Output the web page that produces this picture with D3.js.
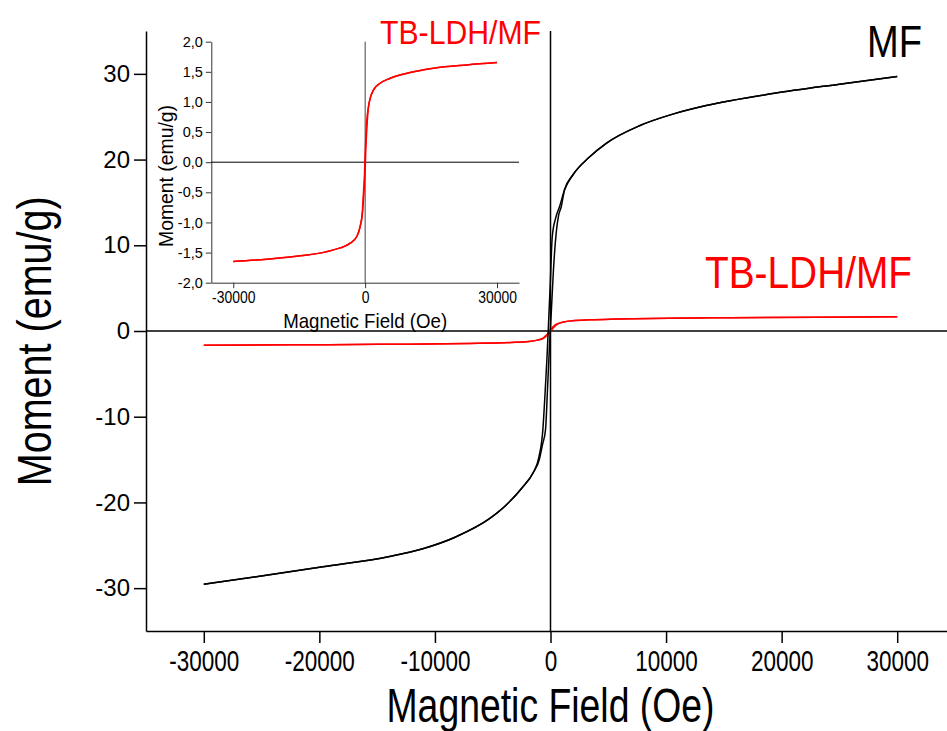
<!DOCTYPE html>
<html>
<head>
<meta charset="utf-8">
<script src="https://cdn.jsdelivr.net/npm/d3@7"></script>
<style>
  body { margin: 0; background: #fff; }
  svg { display: block; font-family: "Liberation Sans", Arial, sans-serif; }
</style>
</head>
<body>
<svg id="chart" width="947" height="731"></svg>
<script>
// --- MF hysteresis loop ---
const mfDescH = [30000, 25000, 19230, 13470, 10580, 7700, 4820, 3370, 1930, 1210, 780, 450, 150, -20, -150, -300, -480, -660, -1000, -1530, -2400, -3830, -5280, -8160, -11050, -13930, -19700, -25460, -30000];
const mfDescM = [29.7, 28.8, 27.7, 26.3, 25.3, 23.95, 21.9, 20.3, 18.2, 16.45, 14.5, 13.2, 11.0, 5.5, 1.5, -3.0, -7.5, -11.5, -14.7, -16.6, -18.2, -20.3, -21.9, -24.0, -25.4, -26.3, -27.5, -28.66, -29.55];
const mfAscH = [-30000, -25460, -19700, -13930, -11050, -8160, -5280, -3830, -2400, -1530, -950, -700, -430, -250, -80, 80, 250, 490, 700, 930, 1210, 1930, 3370, 4820, 7700, 10580, 13470, 19230, 25000, 30000];
const mfAscM = [-29.55, -28.66, -27.5, -26.3, -25.4, -24.0, -21.9, -20.3, -18.2, -16.6, -14.9, -13.3, -11.5, -6.5, -1.5, 2.5, 7.0, 11.4, 13.5, 14.5, 16.45, 18.2, 20.3, 21.9, 23.95, 25.3, 26.3, 27.7, 28.8, 29.7];

// --- TB-LDH/MF loop ---
const ldhDescH = [30000, 23160, 15570, 10250, 5700, 3418, 1900, 1139, 760, 380, 150, 0, -150, -380, -608, -1139, -1900, -3418, -7215, -14810, -22400, -30000];
const ldhDescM = [1.654, 1.615, 1.56, 1.49, 1.394, 1.31, 1.2, 1.06, 0.92, 0.70, 0.40, 0.15, -0.2, -0.5, -0.79, -1.067, -1.233, -1.344, -1.455, -1.554, -1.61, -1.648];
const ldhAscH = [-30000, -22400, -14810, -7215, -3418, -1900, -1139, -608, -380, -150, 0, 150, 380, 760, 1139, 1900, 3418, 5700, 10250, 15570, 23160, 30000];
const ldhAscM = [-1.648, -1.61, -1.554, -1.455, -1.344, -1.233, -1.067, -0.85, -0.62, -0.35, -0.12, 0.2, 0.55, 0.92, 1.06, 1.2, 1.31, 1.394, 1.49, 1.56, 1.615, 1.654];

// --- tick values ---
const mainXMajor = [-30000, -20000, -10000, 0, 10000, 20000, 30000];
const mainXMinor = [-35000, -25000, -15000, -5000, 5000, 15000, 25000, 35000];
const mainYMajor = [-30, -20, -10, 0, 10, 20, 30];
const mainYMinor = [-35, -25, -15, -5, 5, 15, 25, 35];
const insetXMajor = [-30000, 0, 30000];
const insetXMinor = [-15000, 15000];
const insetYMajor = [-2, -1.5, -1, -0.5, 0, 0.5, 1, 1.5, 2];
const insetYMinor = [-1.75, -1.25, -0.75, -0.25, 0.25, 0.75, 1.25, 1.75];

// each branch is a function of H, so sort by H for a monotone curve
const zip = (hs, ms) => hs.map((h, i) => ({ h: h, m: ms[i] })).sort((a, b) => a.h - b.h);
const plainFmt = d => String(d);
const commaFmt = d => d.toFixed(1).replace(".", ",");

const svg = d3.select("#chart");

// ===== main plot =====
const x = d3.scaleLinear().domain([-35000, 35000]).range([146, 955]);
const y = d3.scaleLinear().domain([-35, 35]).range([631, 31]);

function drawAxes(g, xs, ys, opt) {
  const xAxisG = g.append("g").attr("transform", `translate(0,${ys.range()[0]})`);
  xAxisG.call(d3.axisBottom(xs).tickValues(opt.xMinor).tickSize(opt.minor).tickSizeOuter(0).tickFormat(""));
  xAxisG.call(d3.axisBottom(xs).tickValues(opt.xMajor).tickSize(opt.major).tickSizeOuter(0)
    .tickPadding(opt.xPad).tickFormat(opt.xFmt));

  const yAxisG = g.append("g").attr("transform", `translate(${xs.range()[0]},0)`);
  yAxisG.call(d3.axisLeft(ys).tickValues(opt.yMinor).tickSize(opt.minor).tickSizeOuter(0).tickFormat(""));
  yAxisG.call(d3.axisLeft(ys).tickValues(opt.yMajor).tickSize(opt.major).tickSizeOuter(0)
    .tickPadding(opt.yPad).tickFormat(opt.yFmt));

  [xAxisG, yAxisG].forEach(a => {
    a.selectAll("path, line").attr("stroke", opt.color).attr("stroke-width", opt.width);
    a.selectAll("text").attr("fill", "#000").attr("font-family", null).attr("font-size", null);
  });
  xAxisG.selectAll("text").style("font-size", opt.xFont + "px")
    .attr("transform", `scale(${opt.xSquash},1)`);
  yAxisG.selectAll("text").style("font-size", opt.yFont + "px");
}

const main = svg.append("g");
drawAxes(main, x, y, {
  xMajor: mainXMajor, xMinor: mainXMinor, yMajor: mainYMajor, yMinor: mainYMinor,
  major: 12, minor: 6, xPad: 7, yPad: 4, color: "#000", width: 1.5,
  xFmt: plainFmt, yFmt: plainFmt,
  xFont: 30, xSquash: 0.75, yFont: 24
});

// zero lines
main.append("line").attr("x1", x(-35000)).attr("x2", x(35000)).attr("y1", y(0)).attr("y2", y(0))
  .attr("stroke", "#000").attr("stroke-width", 1.5);
main.append("line").attr("x1", x(0)).attr("x2", x(0)).attr("y1", y(35)).attr("y2", y(-35))
  .attr("stroke", "#000").attr("stroke-width", 1.5);

const line = d3.line().curve(d3.curveMonotoneX).x(d => x(d.h)).y(d => y(d.m));
[[ldhDescH, ldhDescM], [ldhAscH, ldhAscM]].forEach(([hs, ms]) => {
  main.append("path").datum(zip(hs, ms)).attr("d", line)
    .attr("fill", "none").attr("stroke", "#ff0000").attr("stroke-width", 1.5);
});
[[mfDescH, mfDescM], [mfAscH, mfAscM]].forEach(([hs, ms]) => {
  main.append("path").datum(zip(hs, ms)).attr("d", line)
    .attr("fill", "none").attr("stroke", "#000").attr("stroke-width", 1.5);
});

// titles
main.append("text").attr("x", x(0)).attr("y", 722).attr("text-anchor", "middle")
  .attr("textLength", 328).attr("lengthAdjust", "spacingAndGlyphs")
  .style("font-size", "48px").text("Magnetic Field (Oe)");
main.append("text").attr("transform", `translate(51,${y(-1.2)}) rotate(-90)`).attr("text-anchor", "middle")
  .attr("textLength", 290).attr("lengthAdjust", "spacingAndGlyphs")
  .style("font-size", "48px").text("Moment (emu/g)");

main.append("text").attr("x", 867).attr("y", 57)
  .attr("textLength", 55).attr("lengthAdjust", "spacingAndGlyphs")
  .style("font-size", "44px").text("MF");
main.append("text").attr("x", 705).attr("y", 288).attr("fill", "#ff0000")
  .attr("textLength", 207).attr("lengthAdjust", "spacingAndGlyphs")
  .style("font-size", "44px").text("TB-LDH/MF");

// ===== inset =====
const xi = d3.scaleLinear().domain([-35000, 35000]).range([211.3, 519]);
const yi = d3.scaleLinear().domain([-2, 2]).range([282.7, 41.7]);
const inset = svg.append("g");

drawAxes(inset, xi, yi, {
  xMajor: insetXMajor, xMinor: insetXMinor, yMajor: insetYMajor, yMinor: insetYMinor,
  major: 5.5, minor: 3, xPad: 3.5, yPad: 3, color: "#333", width: 1,
  xFmt: plainFmt, yFmt: commaFmt,
  xFont: 16, xSquash: 0.87, yFont: 14.5
});

inset.append("line").attr("x1", xi(-35000)).attr("x2", xi(35000)).attr("y1", yi(0)).attr("y2", yi(0))
  .attr("stroke", "#000").attr("stroke-width", 1);
inset.append("line").attr("x1", xi(0)).attr("x2", xi(0)).attr("y1", yi(2)).attr("y2", yi(-2))
  .attr("stroke", "#444").attr("stroke-width", 1);

const lineI = d3.line().curve(d3.curveMonotoneX).x(d => xi(d.h)).y(d => yi(d.m));
[[ldhDescH, ldhDescM], [ldhAscH, ldhAscM]].forEach(([hs, ms]) => {
  inset.append("path").datum(zip(hs, ms)).attr("d", lineI)
    .attr("fill", "none").attr("stroke", "#ff0000").attr("stroke-width", 1.5);
});

inset.append("text").attr("x", xi(0)).attr("y", 327.5).attr("text-anchor", "middle")
  .attr("textLength", 164).attr("lengthAdjust", "spacingAndGlyphs")
  .style("font-size", "21px").text("Magnetic Field (Oe)");
inset.append("text").attr("transform", `translate(173,176) rotate(-90)`).attr("text-anchor", "middle")
  .attr("textLength", 142).attr("lengthAdjust", "spacingAndGlyphs")
  .style("font-size", "21px").text("Moment (emu/g)");
inset.append("text").attr("x", 380).attr("y", 43.5).attr("fill", "#ff0000")
  .attr("textLength", 161).attr("lengthAdjust", "spacingAndGlyphs")
  .style("font-size", "34px").text("TB-LDH/MF");
</script>
</body>
</html>
